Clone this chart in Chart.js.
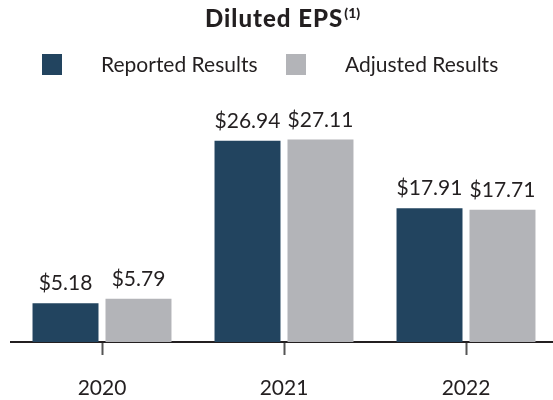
<!DOCTYPE html>
<html><head><meta charset="utf-8">
<script src="https://cdn.jsdelivr.net/npm/chart.js@4/dist/chart.umd.min.js"></script>
<style>
html,body{margin:0;padding:0;overflow:hidden;background:#fff;width:553px;height:400px;}
#wrap{position:relative;width:553px;height:400px;overflow:hidden;}
#c{position:absolute;left:0;top:0;}
#title{position:absolute;left:205px;top:6px;font-family:Lato,sans-serif;font-weight:900;font-size:24px;line-height:24px;letter-spacing:1px;color:#231f20;white-space:nowrap;}
#title sup{font-size:14px;vertical-align:0;position:relative;top:-9px;margin-left:1px;letter-spacing:0;}
.lg{position:absolute;font-family:Lato,sans-serif;font-size:21px;line-height:21px;color:#231f20;white-space:nowrap;}
.box{position:absolute;width:20px;height:21px;}
</style></head>
<body><div id="wrap">
<canvas id="c" width="560" height="400"></canvas>
<div id="title">Diluted EPS<sup>(1)</sup></div>
<div id="legend"></div>
</div>
<script>
const categories = ['2020', '2021', '2022'];
const seriesNames = ['Reported Results', 'Adjusted Results'];
const reported = [5.18, 26.94, 17.91];
const adjusted = [5.79, 27.11, 17.71];
const colors = ['#22445f', '#b3b4b8'];

// HTML legend
const legendPos = [{box: 42, text: 101}, {box: 286, text: 345}];
const lg = document.getElementById('legend');
seriesNames.forEach((n, i) => {
  const b = document.createElement('div');
  b.className = 'box';
  b.style.left = legendPos[i].box + 'px';
  b.style.top = '54px';
  b.style.background = colors[i];
  lg.appendChild(b);
  const t = document.createElement('div');
  t.className = 'lg';
  t.style.left = legendPos[i].text + 'px';
  t.style.top = '53px';
  t.textContent = n;
  lg.appendChild(t);
});

const valueLabels = {
  id: 'valueLabels',
  afterDatasetsDraw(chart) {
    const ctx = chart.ctx;
    ctx.save();
    ctx.font = '21px Lato';
    ctx.fillStyle = '#231f20';
    ctx.textAlign = 'center';
    ctx.textBaseline = 'alphabetic';
    chart.data.datasets.forEach((ds, i) => {
      chart.getDatasetMeta(i).data.forEach((bar, j) => {
        ctx.fillText('$' + ds.data[j].toFixed(2), bar.x, bar.y - 13);
      });
    });
    ctx.restore();
  }
};

new Chart(document.getElementById('c'), {
  type: 'bar',
  data: {
    labels: categories,
    datasets: [
      {label: seriesNames[0], data: reported, backgroundColor: colors[0], categoryPercentage: 0.802, barPercentage: 0.904},
      {label: seriesNames[1], data: adjusted, backgroundColor: colors[1], categoryPercentage: 0.802, barPercentage: 0.904}
    ]
  },
  options: {
    responsive: false,
    animation: false,
    events: [],
    layout: {padding: {left: 11, right: 3, top: 103, bottom: 0}},
    plugins: {legend: {display: false}, title: {display: false}, tooltip: {enabled: false}},
    scales: {
      x: {
        afterFit(scale) { scale.height = 58; },
        grid: {display: true, drawOnChartArea: false, drawTicks: true, tickLength: 13, offset: false, tickColor: '#555', tickWidth: 2},
        border: {display: true, color: '#231f20', width: 2},
        ticks: {font: {family: 'Lato', size: 21}, color: '#231f20', padding: 21}
      },
      y: {display: false, min: 0, max: 32}
    }
  },
  plugins: [valueLabels]
});
</script>
</body></html>
